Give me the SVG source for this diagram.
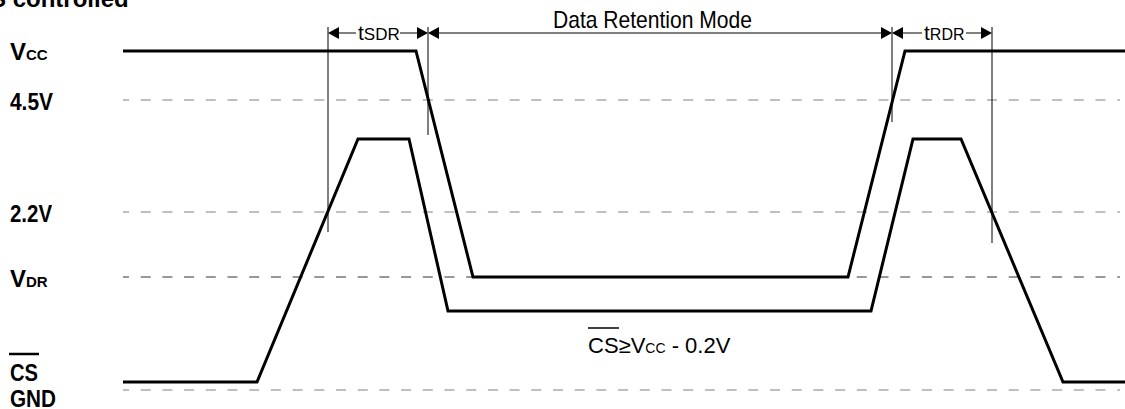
<svg xmlns="http://www.w3.org/2000/svg" width="1125" height="409" viewBox="0 0 1125 409">
<style>
.lbl{font-family:"Liberation Sans",Arial,sans-serif;font-weight:bold;fill:#000}
.txt{font-family:"Liberation Sans",Arial,sans-serif;fill:#000}
.dash{stroke:#808080;stroke-width:1.2;stroke-dasharray:10 11.7;stroke-dashoffset:4;fill:none}
.sig{stroke:#000;stroke-width:3;fill:none;stroke-linejoin:miter}
.vl{stroke:#000;stroke-width:1;fill:none}
.ah{fill:#000}
</style>
<rect width="1125" height="409" fill="#fff"/>
<g id="title"><text class="lbl" x="-10" y="7" font-size="24">S controlled</text></g>
<g id="labels">
<text class="lbl" x="10" y="60" font-size="24">V<tspan font-size="15">CC</tspan></text>
<text class="lbl" x="10" y="110" font-size="24" textLength="43" lengthAdjust="spacingAndGlyphs">4.5V</text>
<text class="lbl" x="10" y="222" font-size="24" textLength="42" lengthAdjust="spacingAndGlyphs">2.2V</text>
<text class="lbl" x="10" y="287" font-size="24">V<tspan font-size="15">DR</tspan></text>
<line x1="9" y1="354" x2="39" y2="354" stroke="#000" stroke-width="2.5"/>
<text class="lbl" x="10" y="381" font-size="24" textLength="28" lengthAdjust="spacingAndGlyphs">CS</text>
<text class="lbl" x="10" y="407" font-size="24" textLength="46" lengthAdjust="spacingAndGlyphs">GND</text>
</g>
<g id="levels">
<line class="dash" x1="123" y1="100" x2="1120" y2="100"/>
<line class="dash" x1="123" y1="212" x2="1120" y2="212"/>
<line class="dash" x1="123" y1="277" x2="1120" y2="277" style="stroke:#333"/>
<line class="dash" x1="123" y1="390" x2="1120" y2="390"/>
</g>
<g id="vcc-signal"><path class="sig" d="M123,51 L416,51 L473,277 L848,277 L905,51 L1125,51"/></g>
<g id="cs-signal"><path class="sig" d="M123,382 L257,382 L358,139 L409,139 L448,311 L871,311 L913,139 L961,139 L1063,382 L1125,382"/></g>
<g id="connectors">
<line class="vl" x1="328" y1="27" x2="328" y2="232"/>
<line class="vl" x1="428" y1="27" x2="428" y2="135"/>
<line class="vl" x1="892" y1="27" x2="892" y2="122"/>
<line class="vl" x1="992" y1="27" x2="992" y2="243" stroke="#888"/>
<line class="vl" x1="338" y1="33" x2="356" y2="33"/>
<line class="vl" x1="400" y1="33" x2="418" y2="33"/>
<line class="vl" x1="438" y1="33" x2="882" y2="33"/>
<line class="vl" x1="902" y1="33" x2="922" y2="33"/>
<line class="vl" x1="966" y1="33" x2="982" y2="33"/>
<polygon class="ah" points="328,33 339,27 339,39"/>
<polygon class="ah" points="428,33 417,27 417,39"/>
<polygon class="ah" points="428,33 439,27 439,39"/>
<polygon class="ah" points="892,33 881,27 881,39"/>
<polygon class="ah" points="892,33 903,27 903,39"/>
<polygon class="ah" points="992,33 981,27 981,39"/>
</g>
<g id="timing-labels">
<text class="txt" x="358" y="40" font-size="21">t<tspan font-size="17">SDR</tspan></text>
<text class="txt" x="553" y="28" font-size="24" textLength="199" lengthAdjust="spacingAndGlyphs">Data Retention Mode</text>
<text class="txt" x="924" y="40" font-size="21">t<tspan font-size="16">RDR</tspan></text>
</g>
<g id="condition">
<line x1="588" y1="328" x2="619" y2="328" stroke="#000" stroke-width="1.5"/>
<text class="txt" x="588" y="353" font-size="22">CS≥V<tspan font-size="14">CC</tspan> - 0.2V</text>
</g>
</svg>
